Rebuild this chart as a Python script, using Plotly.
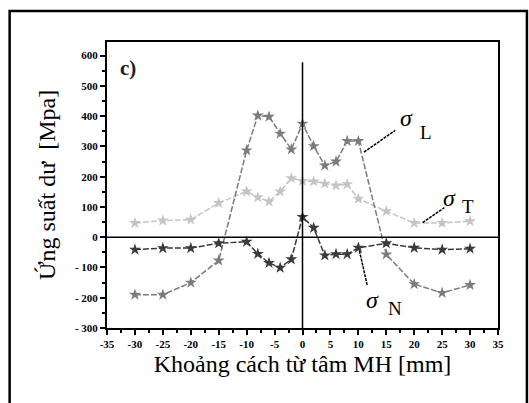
import plotly.graph_objects as go

x_vals = [-30, -25, -20, -15, -10, -8, -6, -4, -2, 0, 2, 4, 6, 8, 10, 15, 20, 25, 30]
sigma_L = [-190, -190, -150, -77, 287, 402, 398, 342, 290, 375, 301, 237, 250, 318, 318, -57, -155, -184, -158]
sigma_T = [47, 55, 58, 113, 151, 132, 118, 151, 195, 186, 184, 177, 171, 175, 127, 86, 47, 47, 53]
sigma_N = [-41, -36, -36, -20, -15, -55, -85, -101, -73, 67, 31, -60, -56, -56, -35, -20, -35, -41, -38]

x_ticks = [-35, -30, -25, -20, -15, -10, -5, 0, 5, 10, 15, 20, 25, 30, 35]
x_ticktext = ["-35", "-30", "-25", "-20", "-15", "-10", "-5", "0", "5", "10", "15", "20", "25", "30", "35"]
y_ticks = [-300, -200, -100, 0, 100, 200, 300, 400, 500, 600]
y_ticktext = ["- 300", "- 200", "- 100", "0", "100", "200", "300", "400", "500", "600"]

fig = go.Figure()

series = [
    (sigma_T, "#c4c4c4"),
    (sigma_L, "#7c7c7c"),
    (sigma_N, "#3a3a3a"),
]
for ys, col in series:
    fig.add_trace(go.Scatter(
        x=x_vals, y=ys, mode="lines+markers",
        line=dict(color=col, width=1.5, dash="6px,2px"),
        marker=dict(symbol="star", size=9, color=col),
        showlegend=False,
    ))

# zero lines
fig.add_shape(type="line", xref="x", yref="y", x0=-35, x1=35, y0=0, y1=0,
              line=dict(color="black", width=1.5))
fig.add_shape(type="line", xref="x", yref="y", x0=0, x1=0, y0=-300, y1=578,
              line=dict(color="black", width=1.5))

# leader lines
leaders = [
    (11.0, 281, 16.6, 353),
    (21.5, 48, 25.4, 98),
    (10.2, -45, 11.6, -160),
]
for x0, y0, x1, y1 in leaders:
    fig.add_shape(type="line", xref="x", yref="y", x0=x0, y0=y0, x1=x1, y1=y1,
                  line=dict(color="black", width=1.5, dash="3px,1px"))

# outer frame
fig.add_shape(type="rect", xref="paper", yref="paper", x0=-0.249, x1=1.074, y0=-0.29, y1=1.108,
              line=dict(color="black", width=2.5), fillcolor="rgba(0,0,0,0)")

serif = "Liberation Serif, Times New Roman, serif"
labels = [
    ("<i>σ</i>", 18.7, 393, 24),
    ("L", 22.1, 347, 19),
    ("<i>σ</i>", 26.4, 130, 24),
    ("T", 29.7, 100, 19),
    ("<i>σ</i>", 12.5, -208, 24),
    ("N", 16.6, -235, 19),
]
for t, xx, yy, sz in labels:
    fig.add_annotation(x=xx, y=yy, xref="x", yref="y", text=t, showarrow=False,
                       font=dict(family=serif, size=sz, color="black"))

fig.add_annotation(x=-31.2, y=560, xref="x", yref="y", text="<b>c)</b>", showarrow=False,
                   font=dict(family=serif, size=21, color="#222"))

axis_common = dict(
    showline=True, linecolor="black", linewidth=2, mirror=True,
    ticks="outside", ticklen=5, tickwidth=1.5, tickcolor="black",
    showgrid=False, zeroline=False,
    tickfont=dict(family=serif, size=11, color="black", weight="bold"),
)

fig.update_layout(
    width=529, height=403,
    margin=dict(l=106.5, r=31, t=42, b=75),
    paper_bgcolor="white", plot_bgcolor="white",
    xaxis=dict(range=[-35, 35], tickvals=x_ticks, ticktext=["<b>%s</b>" % t for t in x_ticktext],
               minor=dict(dtick=2.5, ticks="outside", ticklen=3, tickwidth=1.5, tickcolor="black"),
               title=dict(text="Khoảng cách từ tâm MH [mm]", standoff=6,
                          font=dict(family=serif, size=24, color="black")),
               **axis_common),
    yaxis=dict(range=[-300, 645], tickvals=y_ticks, ticktext=["<b>%s</b>" % t for t in y_ticktext],
               minor=dict(dtick=50, ticks="outside", ticklen=3, tickwidth=1.5, tickcolor="black"),
               title=dict(text="Ứng suất dư  [Mpa]", standoff=12,
                          font=dict(family=serif, size=24, color="black")),
               **axis_common),
)

fig.write_html("out.html")
